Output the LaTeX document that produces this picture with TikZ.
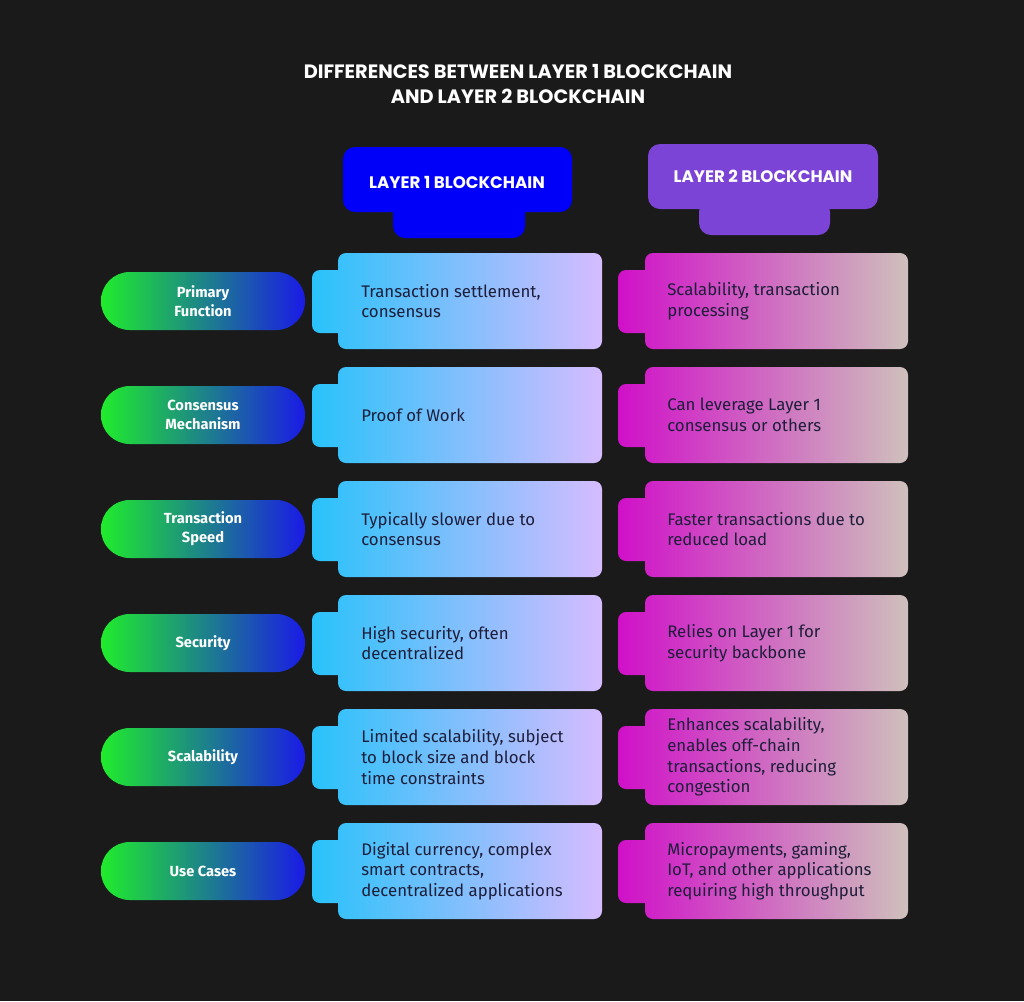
\documentclass[tikz,border=0pt]{standalone}
\usepackage{fontspec}
\setmainfont{Fira Sans}
\newfontfamily\headfont{Poppins}
\usetikzlibrary{positioning}

\definecolor{bgdark}{HTML}{1A1A1A}
\definecolor{oneblue}{HTML}{0000FA}
\definecolor{twopurple}{HTML}{7B44D6}
\definecolor{onecyan}{HTML}{29C2FA}
\definecolor{onelav}{HTML}{D5BCFF}
\definecolor{twomag}{HTML}{D010C8}
\definecolor{twobeige}{HTML}{CFC0BC}
\definecolor{pillgreen}{HTML}{20EC2C}
\definecolor{pillblue}{HTML}{1A1AE6}
\definecolor{celltext}{HTML}{1E1E3A}

\tikzset{
  celltxt/.style={anchor=west, align=left, text=celltext, font=\fontsize{12.6}{15.5}\selectfont, inner sep=0pt},
  rowtxt/.style={align=center, text=white, font=\bfseries\fontsize{11}{14}\selectfont, inner sep=0pt},
  headtxt/.style={text=white, font=\headfont\bfseries\fontsize{12.5}{15}\selectfont, inner sep=0pt},
}

\begin{document}
\begin{tikzpicture}[x=0.75pt,y=-0.75pt]
  \fill[bgdark] (0,0) rectangle (1024,1001);
  \useasboundingbox (0,0) rectangle (1024,1001);

  % title
  \node[headtxt, align=center, font=\headfont\bfseries\fontsize{14.5}{19}\selectfont] (title) at (518,84)
    {DIFFERENCES BETWEEN LAYER 1 BLOCKCHAIN\\AND LAYER 2 BLOCKCHAIN};

  % column headers
  \fill[oneblue, rounded corners=9pt] (343,147) rectangle (572,212) (393,200) rectangle (525,238);
  \node[headtxt] (hone) at (457,182) {LAYER 1 BLOCKCHAIN};
  \fill[twopurple, rounded corners=9pt] (648,144) rectangle (878,209) (699,200) rectangle (830,235);
  \node[headtxt] (htwo) at (763,176) {LAYER 2 BLOCKCHAIN};

  % rows
  \foreach \i/\lab/\one/\two in {
    0/{Primary\\Function}/{Transaction settlement,\\consensus}/{Scalability, transaction\\processing},
    1/{Consensus\\Mechanism}/{Proof of Work}/{Can leverage Layer 1\\consensus or others},
    2/{Transaction\\Speed}/{Typically slower due to\\consensus}/{Faster transactions due to\\reduced load},
    3/{Security}/{High security, often\\decentralized}/{Relies on Layer 1 for\\security backbone},
    4/{Scalability}/{Limited scalability, subject\\to block size and block\\time constraints}/{Enhances scalability,\\enables off-chain\\transactions, reducing\\congestion},
    5/{Use Cases}/{Digital currency, complex\\smart contracts,\\decentralized applications}/{Micropayments, gaming,\\IoT, and other applications\\requiring high throughput}} {
    \pgfmathsetmacro{\top}{253+114*\i}
    \pgfmathsetmacro{\mid}{\top+48}
    % row label pill
    \shade[left color=pillgreen, right color=pillblue, rounded corners=21.5pt]
      (101,\mid-29) rectangle (305,\mid+29);
    \node[rowtxt] (lab\i) at (203,\mid) {\lab};
    % layer 1 cell
    \shade[left color=onecyan, right color=onelav, rounded corners=6pt]
      (338,\top) rectangle (602,\top+96) (312,\top+17) rectangle (350,\top+80);
    \node[celltxt] (one\i) at (361,\mid) {\one};
    % layer 2 cell
    \shade[left color=twomag, right color=twobeige, rounded corners=6pt]
      (645,\top) rectangle (908,\top+96) (618,\top+17) rectangle (655,\top+80);
    \node[celltxt] (two\i) at (667,\mid) {\two};
  }
\end{tikzpicture}
\end{document}
